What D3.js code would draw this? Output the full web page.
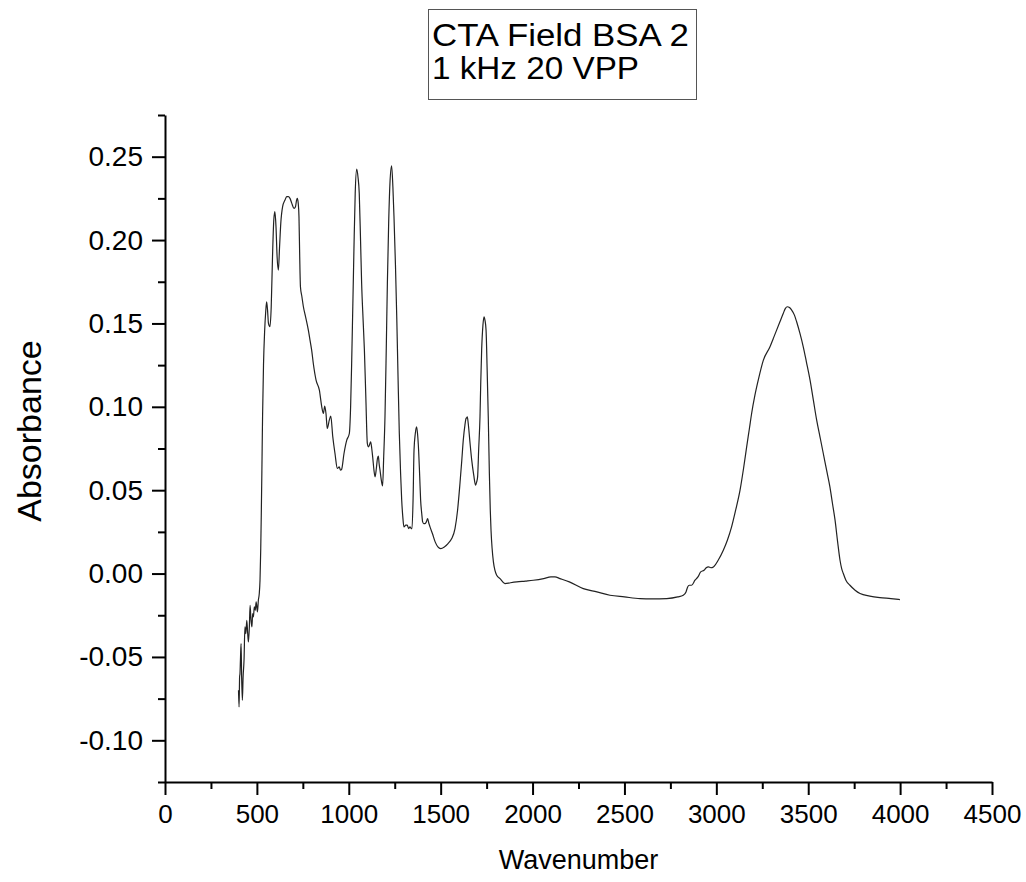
<!DOCTYPE html>
<html>
<head>
<meta charset="utf-8">
<script src="https://cdn.jsdelivr.net/npm/d3@7/dist/d3.min.js"></script>
<style>
  html, body { margin: 0; padding: 0; background: #fff; }
  svg { display: block; font-family: "Liberation Sans", Arial, sans-serif; }
</style>
</head>
<body>
<svg id="chart" width="1026" height="882"></svg>
<script>
// FTIR spectrum: wavenumber (cm-1) vs absorbance
const wavenumber = [
  400, 403, 406, 408, 411, 414, 417, 421, 425, 430, 435, 440, 445, 450, 454, 459, 463, 468, 473, 477,
  481, 486, 491, 496, 503, 508, 513, 517, 521, 524, 527, 531, 536, 542, 548, 553, 558, 563, 571, 578,
  585, 592, 598, 604, 610, 617, 623, 630, 640, 653, 662, 671, 680, 690, 702, 710, 716, 720, 725, 729,
  733, 737, 745, 753, 765, 780, 789, 798, 807, 822, 840, 853, 862, 869, 876, 883, 894, 902, 913, 925,
  938, 948, 955, 961, 974, 989, 1003, 1010, 1016, 1021, 1028, 1035, 1043, 1050, 1057, 1064, 1070, 1078, 1085, 1093,
  1101, 1107, 1112, 1119, 1125, 1130, 1137, 1143, 1150, 1156, 1161, 1165, 1170, 1177, 1184, 1190, 1197, 1204, 1210, 1217,
  1224, 1233, 1240, 1246, 1254, 1261, 1268, 1275, 1282, 1288, 1294, 1300, 1310, 1318, 1326, 1333, 1340, 1344, 1350, 1355,
  1362, 1369, 1374, 1380, 1386, 1391, 1397, 1402, 1408, 1415, 1422, 1429, 1436, 1442, 1455, 1470, 1485, 1500, 1520, 1540,
  1560, 1578, 1592, 1605, 1615, 1623, 1632, 1638, 1642, 1645, 1650, 1660, 1669, 1680, 1690, 1696, 1701, 1707, 1714, 1718,
  1723, 1730, 1736, 1741, 1747, 1753, 1759, 1765, 1770, 1774, 1780, 1787, 1795, 1805, 1823, 1850, 1880, 1914, 1960, 2004,
  2060, 2100, 2122, 2149, 2200, 2276, 2350, 2421, 2500, 2585, 2650, 2730, 2790, 2820, 2835, 2844, 2853, 2865, 2884, 2900,
  2915, 2933, 2945, 2957, 2970, 2984, 3010, 3038, 3060, 3083, 3105, 3129, 3148, 3165, 3180, 3192, 3210, 3228, 3256, 3292,
  3310, 3328, 3346, 3364, 3376, 3386, 3398, 3410, 3425, 3437, 3455, 3473, 3490, 3510, 3528, 3546, 3564, 3582, 3600, 3618,
  3632, 3646, 3660, 3673, 3682, 3691, 3705, 3727, 3755, 3782, 3835, 3890, 3950, 3999
];
const absorbance = [
  -0.070, -0.080, -0.062, -0.060, -0.050, -0.042, -0.062, -0.076, -0.062, -0.052, -0.032, -0.036, -0.028, -0.036, -0.041, -0.032, -0.019, -0.028, -0.032, -0.024,
  -0.026, -0.020, -0.022, -0.017, -0.023, -0.016, -0.012, -0.004, 0.015, 0.036, 0.060, 0.095, 0.125, 0.145, 0.157, 0.163, 0.158, 0.150, 0.148, 0.160,
  0.190, 0.212, 0.217, 0.208, 0.190, 0.182, 0.195, 0.210, 0.220, 0.224, 0.226, 0.226, 0.225, 0.222, 0.219, 0.220, 0.224, 0.225, 0.222, 0.214,
  0.190, 0.172, 0.166, 0.160, 0.154, 0.146, 0.140, 0.134, 0.126, 0.116, 0.110, 0.100, 0.096, 0.1005, 0.096, 0.087, 0.092, 0.0945, 0.082, 0.072,
  0.063, 0.064, 0.062, 0.0625, 0.072, 0.080, 0.084, 0.100, 0.128, 0.155, 0.194, 0.228, 0.2425, 0.238, 0.228, 0.200, 0.174, 0.152, 0.134, 0.105,
  0.078, 0.076, 0.077, 0.079, 0.075, 0.070, 0.062, 0.058, 0.063, 0.069, 0.0705, 0.066, 0.062, 0.056, 0.0525, 0.070, 0.094, 0.135, 0.174, 0.210,
  0.234, 0.2445, 0.232, 0.214, 0.185, 0.154, 0.118, 0.084, 0.060, 0.044, 0.034, 0.028, 0.029, 0.029, 0.027, 0.028, 0.027, 0.027, 0.045, 0.074,
  0.084, 0.088, 0.084, 0.074, 0.058, 0.044, 0.036, 0.031, 0.030, 0.030, 0.031, 0.033, 0.030, 0.028, 0.024, 0.019, 0.016, 0.015, 0.016, 0.018,
  0.021, 0.027, 0.038, 0.054, 0.068, 0.080, 0.089, 0.093, 0.0935, 0.094, 0.090, 0.078, 0.068, 0.059, 0.053, 0.055, 0.058, 0.075, 0.094, 0.114,
  0.134, 0.149, 0.154, 0.152, 0.146, 0.122, 0.094, 0.060, 0.038, 0.026, 0.015, 0.007, 0.002, -0.001, -0.003, -0.006, -0.0055, -0.005, -0.0045, -0.004,
  -0.003, -0.002, -0.002, -0.003, -0.005, -0.009, -0.011, -0.013, -0.014, -0.015, -0.0152, -0.015, -0.014, -0.013, -0.011, -0.008, -0.007, -0.007, -0.004, -0.002,
  0.001, 0.002, 0.0035, 0.004, 0.0035, 0.004, 0.008, 0.014, 0.020, 0.028, 0.038, 0.050, 0.063, 0.076, 0.087, 0.096, 0.107, 0.116, 0.128, 0.136,
  0.141, 0.146, 0.151, 0.156, 0.159, 0.160, 0.1595, 0.158, 0.155, 0.151, 0.144, 0.136, 0.127, 0.116, 0.104, 0.092, 0.082, 0.072, 0.062, 0.052,
  0.042, 0.032, 0.019, 0.008, 0.003, 0.000, -0.004, -0.007, -0.010, -0.012, -0.0135, -0.0144, -0.015, -0.0156
];

const xTicks = [0, 500, 1000, 1500, 2000, 2500, 3000, 3500, 4000, 4500];
const xMinorTicks = [250, 750, 1250, 1750, 2250, 2750, 3250, 3750, 4250];
const yTicks = [-0.10, -0.05, 0.00, 0.05, 0.10, 0.15, 0.20, 0.25];
const yMinorTicks = [-0.125, -0.075, -0.025, 0.025, 0.075, 0.125, 0.175, 0.225, 0.275];
const titleLines = ["CTA Field BSA 2", "1 kHz 20 VPP"];
const xLabel = "Wavenumber";
const yLabel = "Absorbance";

const svg = d3.select("#chart");
const plotLeft = 165, plotRight = 992, plotTop = 115, plotBottom = 782;

const x = d3.scaleLinear().domain([0, 4500]).range([plotLeft, plotRight]);
const y = d3.scaleLinear().domain([-0.125, 0.275]).range([plotBottom, plotTop]);

const spectrum = wavenumber.map((w, i) => ({ w, a: absorbance[i] }));

// spectrum trace
svg.append("path")
  .datum(spectrum)
  .attr("fill", "none")
  .attr("stroke", "#222")
  .attr("stroke-width", 1.2)
  .attr("stroke-linejoin", "round")
  .attr("d", d3.line().x(d => x(d.w)).y(d => y(d.a)).curve(d3.curveMonotoneX));

// x axis: major ticks with labels, then minor ticks
const gx = svg.append("g").attr("transform", `translate(0,${plotBottom})`);
gx.call(d3.axisBottom(x).tickValues(xTicks).tickSize(13).tickSizeOuter(0).tickPadding(10).tickFormat(d3.format("d")));
gx.append("g").call(d3.axisBottom(x).tickValues(xMinorTicks).tickSize(7).tickSizeOuter(0).tickFormat(""))
  .select(".domain").remove();

// y axis
const gy = svg.append("g").attr("transform", `translate(${plotLeft},0)`);
gy.call(d3.axisLeft(y).tickValues(yTicks).tickSize(13).tickSizeOuter(0).tickPadding(9).tickFormat(d => d.toFixed(2)));
gy.append("g").call(d3.axisLeft(y).tickValues(yMinorTicks).tickSize(7).tickSizeOuter(0).tickFormat(""))
  .select(".domain").remove();

svg.selectAll(".domain").attr("stroke", "#000").attr("stroke-width", 2);
svg.selectAll(".tick line").attr("stroke", "#000").attr("stroke-width", 2);
svg.selectAll(".tick text")
  .attr("fill", "#000")
  .style("font-family", '"Liberation Sans", Arial, sans-serif');
gx.selectAll(".tick text").style("font-size", "26px");
gy.selectAll(".tick text").style("font-size", "28px");

// axis titles
svg.append("text")
  .attr("x", (plotLeft + plotRight) / 2)
  .attr("y", 869)
  .attr("text-anchor", "middle")
  .style("font-size", "27px")
  .text(xLabel);

svg.append("text")
  .attr("transform", "translate(41,431) rotate(-90)")
  .attr("text-anchor", "middle")
  .style("font-size", "34px")
  .text(yLabel);

// boxed title
svg.append("rect")
  .attr("x", 428.5).attr("y", 9.5)
  .attr("width", 268).attr("height", 90)
  .attr("fill", "#fff")
  .attr("stroke", "#555")
  .attr("stroke-width", 1);

const titleWidths = [257, 207];
svg.append("g").selectAll("text")
  .data(titleLines)
  .join("text")
  .attr("x", 432)
  .attr("y", (d, i) => 46 + i * 33)
  .attr("textLength", (d, i) => titleWidths[i])
  .attr("lengthAdjust", "spacingAndGlyphs")
  .style("font-size", "31px")
  .text(d => d);
</script>
</body>
</html>
